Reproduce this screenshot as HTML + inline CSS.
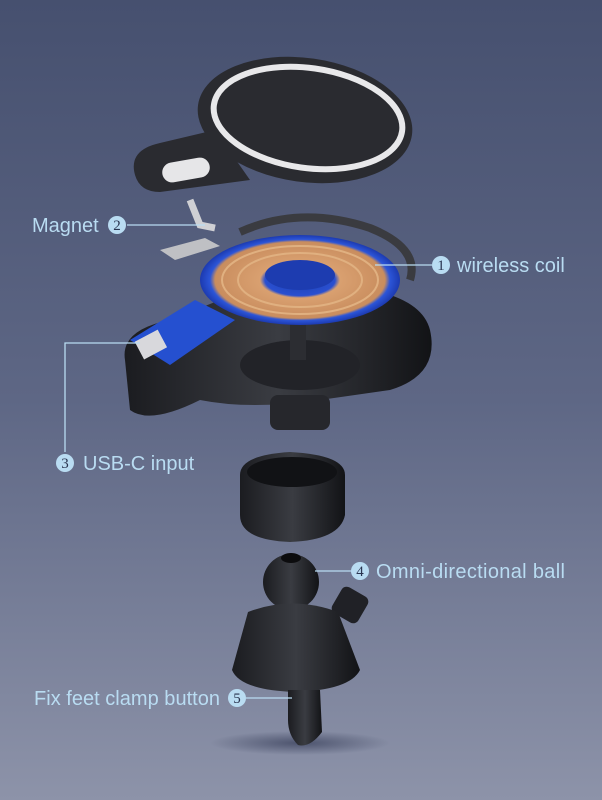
<!DOCTYPE html>
<html><head><meta charset="utf-8"><style>
html,body{margin:0;padding:0;width:602px;height:800px;overflow:hidden}
svg{display:block}
text{font-family:"Liberation Sans",sans-serif;fill:#b9dcf2}
.n{font-family:"Liberation Serif",serif;fill:#2a3550;font-size:15px;text-anchor:middle}
</style></head><body>
<svg width="602" height="800" viewBox="0 0 602 800">
<defs>
<linearGradient id="bg" x1="0" y1="0" x2="0" y2="1">
<stop offset="0" stop-color="#46506f"/><stop offset="0.5" stop-color="#5e6785"/><stop offset="1" stop-color="#8d93a9"/></linearGradient>
<radialGradient id="coil" cx="0.5" cy="0.5" r="0.5">
<stop offset="0" stop-color="#1a3fb0"/><stop offset="0.35" stop-color="#2a4fd0"/><stop offset="0.4" stop-color="#d9a070"/><stop offset="0.85" stop-color="#c98d5e"/><stop offset="0.9" stop-color="#2c55d8"/><stop offset="1" stop-color="#1c3ab0"/></radialGradient>
<linearGradient id="blk" x1="0" y1="0" x2="1" y2="0"><stop offset="0" stop-color="#1b1c20"/><stop offset="0.5" stop-color="#3a3c42"/><stop offset="1" stop-color="#121316"/></linearGradient>
<radialGradient id="sh" cx="0.5" cy="0.5" r="0.5"><stop offset="0" stop-color="#3e4560" stop-opacity="0.8"/><stop offset="1" stop-color="#3e4560" stop-opacity="0"/></radialGradient>
</defs>
<rect width="602" height="800" fill="url(#bg)"/>
<!-- top plate -->
<ellipse cx="305" cy="120" rx="108" ry="62" fill="#2a2b30" transform="rotate(8 305 120)"/>
<path d="M135 175 Q128 150 160 143 L215 130 L250 180 L160 192 Q140 192 135 175Z" fill="#2a2b30"/>
<ellipse cx="308" cy="118" rx="95" ry="50" fill="none" stroke="#e8e8ea" stroke-width="6" transform="rotate(8 308 118)"/>
<rect x="162" y="160" width="48" height="20" rx="10" fill="#e6e6e8" transform="rotate(-10 186 170)"/>
<!-- metal ring -->
<path d="M240 232 Q300 205 370 228 Q420 248 410 280" fill="none" stroke="#3a3b40" stroke-width="8"/>
<path d="M190 200 L200 225 L215 228" fill="none" stroke="#cfd0d4" stroke-width="7"/>
<path d="M160 250 L205 238 L220 246 L175 260Z" fill="#bfc0c4"/>
<!-- base housing -->
<path d="M125 360 Q120 330 170 320 L220 300 Q260 280 330 285 Q420 290 430 330 Q440 375 390 390 L320 400 Q250 410 200 400 Q150 425 130 410Z" fill="url(#blk)"/>
<ellipse cx="300" cy="365" rx="60" ry="25" fill="#222328"/>
<rect x="290" y="320" width="16" height="40" fill="#2c2d32"/>
<rect x="270" y="395" width="60" height="35" rx="8" fill="#26272c"/>
<!-- coil -->
<ellipse cx="300" cy="280" rx="100" ry="45" fill="url(#coil)"/>
<ellipse cx="300" cy="280" rx="78" ry="34" fill="none" stroke="#e0b080" stroke-width="2"/>
<ellipse cx="300" cy="280" rx="62" ry="27" fill="none" stroke="#e0b080" stroke-width="2"/>
<ellipse cx="300" cy="275" rx="35" ry="15" fill="#1d3cb0"/>
<path d="M130 340 L195 300 L235 320 L170 365Z" fill="#2550d0"/>
<rect x="138" y="335" width="26" height="20" fill="#d8d8dc" transform="rotate(-28 150 345)"/>
<!-- nut -->
<path d="M240 475 Q240 455 290 452 Q345 455 345 475 L345 515 Q340 540 290 542 Q240 540 240 515Z" fill="url(#blk)"/>
<ellipse cx="292" cy="472" rx="45" ry="15" fill="#111215"/>
<!-- ball -->
<circle cx="291" cy="582" r="28" fill="url(#blk)"/>
<ellipse cx="291" cy="558" rx="10" ry="5" fill="#0c0c0e"/>
<!-- clamp -->
<rect x="335" y="590" width="30" height="30" rx="6" fill="#202126" transform="rotate(30 350 605)"/>
<path d="M248 612 Q292 595 338 612 L360 670 Q350 690 295 692 Q240 690 232 670Z" fill="url(#blk)"/>
<ellipse cx="300" cy="743" rx="90" ry="12" fill="url(#sh)"/>
<path d="M288 690 L320 690 L322 732 Q310 748 298 745 Q288 735 288 720Z" fill="url(#blk)"/>
<!-- callouts -->
<g stroke="#b9dcf2" stroke-width="1.3" fill="none">
<polyline points="127,225 205,225"/>
<polyline points="375,265 432,265"/>
<polyline points="140,343 65,343 65,452"/>
<polyline points="315,571 352,571"/>
<polyline points="246,698 292,698"/>
</g>
<g fill="#b9dcf2">
<circle cx="117" cy="225" r="9"/><circle cx="441" cy="265" r="9"/><circle cx="65" cy="463" r="9"/><circle cx="360" cy="571" r="9"/><circle cx="237" cy="698" r="9"/>
</g>
<text class="n" x="117" y="230">2</text><text class="n" x="441" y="270">1</text><text class="n" x="65" y="468">3</text><text class="n" x="360" y="576">4</text><text class="n" x="237" y="703">5</text>
<text x="32" y="232" font-size="20">Magnet</text>
<text x="457" y="272" font-size="20">wireless  coil</text>
<text x="83" y="470" font-size="20">USB-C input</text>
<text x="376" y="578" font-size="20" textLength="189">Omni-directional ball</text>
<text x="34" y="705" font-size="20" textLength="186">Fix feet clamp button</text>
</svg>
</body></html>
